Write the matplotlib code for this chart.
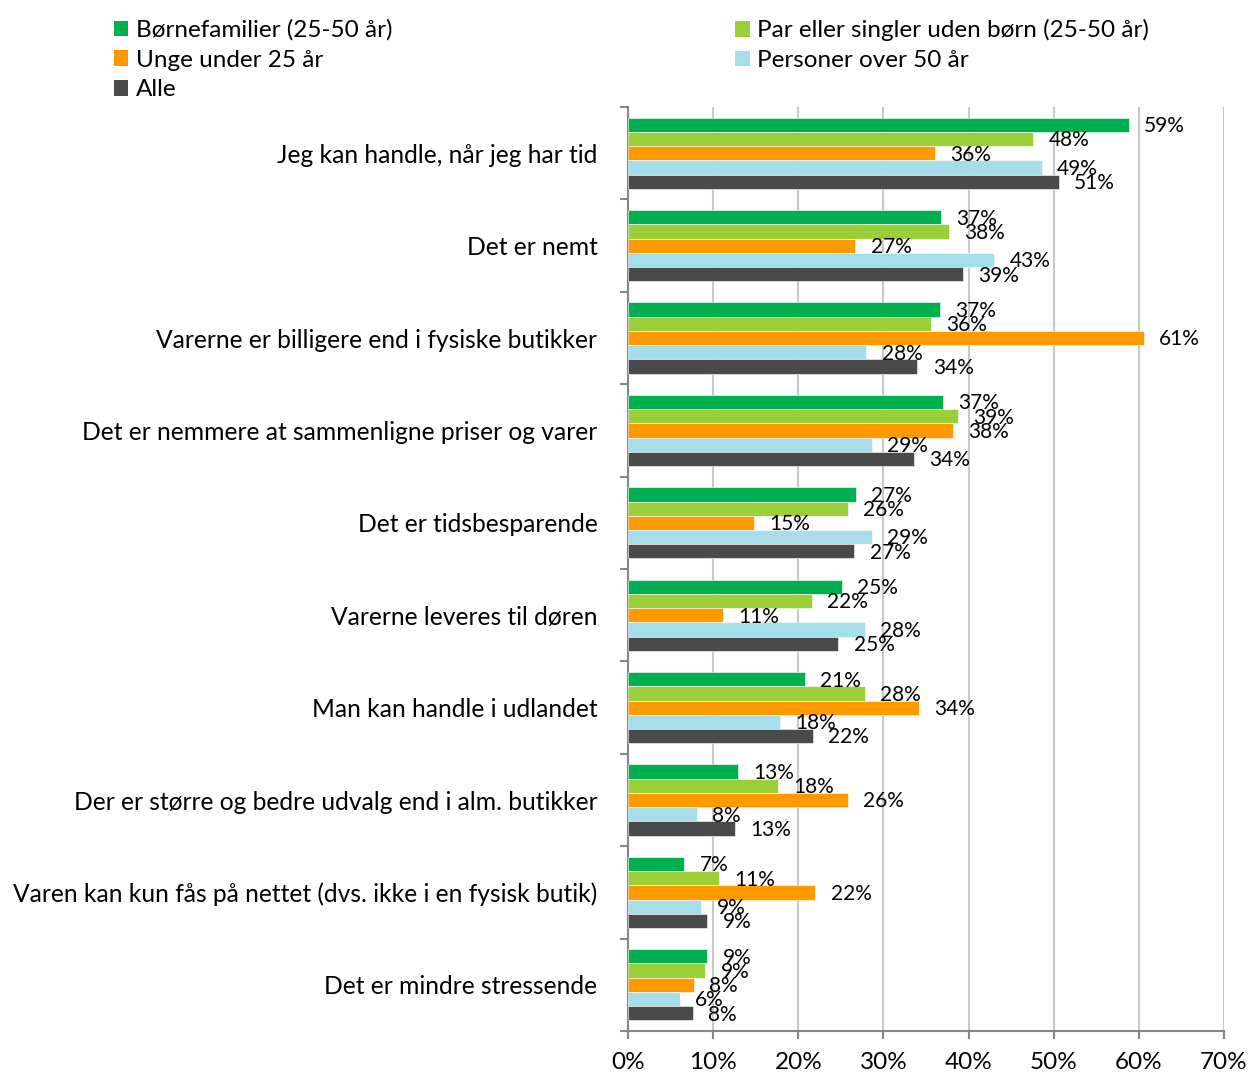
import matplotlib
matplotlib.use("Agg")
import matplotlib.pyplot as plt
from matplotlib.patches import Patch
import numpy as np

plt.rcParams['font.family'] = ['Lato', 'DejaVu Sans']

categories = [
    "Jeg kan handle, når jeg har tid",
    "Det er nemt",
    "Varerne er billigere end i fysiske butikker",
    "Det er nemmere at sammenligne priser og varer",
    "Det er tidsbesparende",
    "Varerne leveres til døren",
    "Man kan handle i udlandet",
    "Der er større og bedre udvalg end i alm. butikker",
    "Varen kan kun fås på nettet (dvs. ikke i en fysisk butik)",
    "Det er mindre stressende",
]
series_names = [
    "Børnefamilier (25-50 år)",
    "Par eller singler uden børn (25-50 år)",
    "Unge under 25 år",
    "Personer over 50 år",
    "Alle",
]
boernefamilier = [58.8, 36.8, 36.6, 37.0, 26.8, 25.1, 20.8, 12.9, 6.6, 9.3]
par_singler    = [47.6, 37.7, 35.6, 38.8, 25.8, 21.6, 27.8, 17.6, 10.7, 9.1]
unge           = [36.0, 26.7, 60.6, 38.2, 14.8, 11.1, 34.2, 25.8, 22.0, 7.7]
over_50        = [48.6, 43.0, 28.0, 28.6, 28.6, 27.8, 17.8, 8.1, 8.6, 6.1]
alle           = [50.6, 39.3, 34.0, 33.6, 26.6, 24.7, 21.7, 12.6, 9.3, 7.6]
series = [boernefamilier, par_singler, unge, over_50, alle]
colors = ["#00B050", "#9BCF3A", "#FF9900", "#A5DEE8", "#4A4A4A"]
x_ticks = [0, 10, 20, 30, 40, 50, 60, 70]

fig = plt.figure(figsize=(12.5, 10.75), dpi=100)
ax = fig.add_axes([0.5024, 0.0409, 0.4768, 0.8595])

n = len(categories)
bar_h = 0.154
centers = np.arange(n)
for i, (vals, col) in enumerate(zip(series, colors)):
    ys = centers + (i - 2) * bar_h
    ax.barh(ys, vals, height=bar_h, color=col, edgecolor='white', linewidth=0.4, zorder=3)
    for y, v in zip(ys, vals):
        ax.annotate(f"{v:.0f}%", xy=(v, y), xytext=(11, -1), textcoords='offset points',
                    ha='left', va='center', fontsize=15, color='black', zorder=4)

ax.set_ylim(n - 0.5, -0.5)
ax.set_xlim(0, 70)
ax.set_xticks(x_ticks)
ax.set_xticklabels([f"{t}%" for t in x_ticks], fontsize=17.5)
ax.set_yticks(centers)
ax.set_yticklabels(categories, fontsize=17.75)
ax.set_yticks(np.arange(n + 1) - 0.5, minor=True)
ax.tick_params(axis='y', which='major', length=0, pad=22)
ax.tick_params(axis='y', which='minor', length=6, width=1.5, color='#868686', direction='out')
ax.tick_params(axis='x', which='major', length=6, width=1.5, color='#868686', direction='out', pad=9)

ax.grid(axis='x', color='#C8C8C8', linewidth=1.5, zorder=0)
ax.set_axisbelow(True)
for s in ['top', 'right']:
    ax.spines[s].set_visible(False)
for s in ['left', 'bottom']:
    ax.spines[s].set_color('#868686')
    ax.spines[s].set_linewidth(1.5)

handles = [Patch(facecolor=c, edgecolor='none') for c in colors]
left_idx = [0, 2, 4]
right_idx = [1, 3]
common = dict(frameon=False, fontsize=17.5, handlelength=0.6, handleheight=0.6,
              handletextpad=0.3, labelspacing=0.36, borderaxespad=0, borderpad=0)
fig.legend([handles[i] for i in left_idx], [series_names[i] for i in left_idx],
           loc='upper left', bbox_to_anchor=(0.091, 0.982), **common)
fig.legend([handles[i] for i in right_idx], [series_names[i] for i in right_idx],
           loc='upper left', bbox_to_anchor=(0.588, 0.982), **common)

fig.savefig("out.png", dpi=100)
